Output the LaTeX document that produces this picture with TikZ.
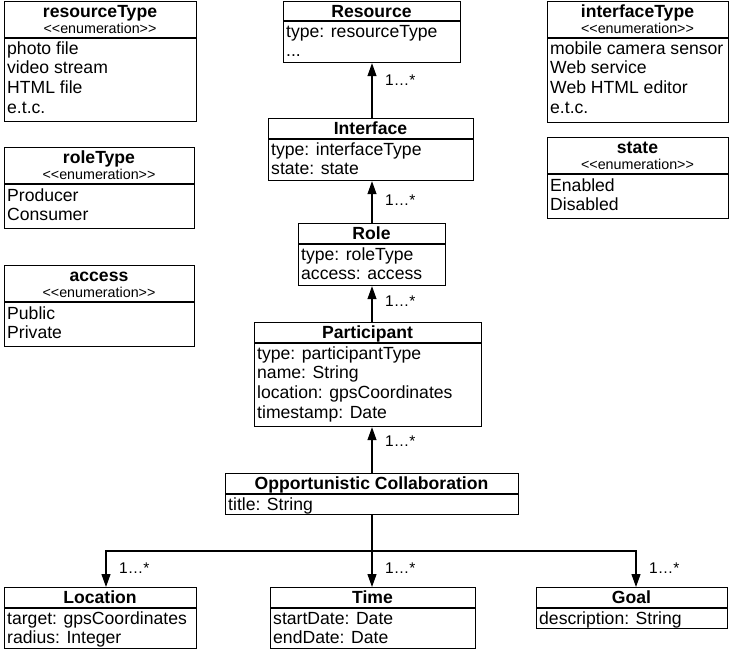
\documentclass[tikz,border=0pt]{standalone}
\usepackage{fontspec}
\setmainfont{Liberation Sans}
\usetikzlibrary{arrows.meta}
\tikzset{%
    box/.style={draw, line width=1.2pt, anchor=north west, inner sep=0pt},
    sepline/.style={line width=1.2pt},
    ttl/.style={anchor=base, inner sep=0pt, font=\fontsize{17.6}{20}\selectfont\bfseries},
    enm/.style={anchor=base, inner sep=0pt, font=\fontsize{14.3}{16}\selectfont},
    att/.style={anchor=base west, inner sep=0pt, align=left, font=\fontsize{17.6}{19.7}\selectfont},
    mult/.style={anchor=base west, inner sep=0pt, font=\fontsize{15.5}{18}\selectfont},
    assoc/.style={line width=1.2pt, -{Triangle[length=13pt, width=9pt]}}
}
\newcommand{\enumtag}{<\kern0pt<enumeration>\kern0pt>}

\begin{document}
\begin{tikzpicture}[x=1pt, y=-1pt]
            \useasboundingbox (0,0) rectangle (729,651);

            % enumerations, left column (att nodes sit on their last baseline)
            \node[box, minimum width=192, minimum height=120] (resT) at (4,1){};
            \draw[sepline] (4,38) -- (196,38);
            \node[ttl] (resTn) at (100,17){resourceType};
            \node[enm] (resTe) at (100,33){\enumtag};
            \node[att] (resTa) at (7,113.1){photo file\\video stream\\HTML file\\e.t.c.};

            \node[box, minimum width=190, minimum height=81] (roleT) at (4,147){};
            \draw[sepline] (4,184) -- (194,184);
            \node[ttl] (roleTn) at (99,163){roleType};
            \node[enm] (roleTe) at (99,179){\enumtag};
            \node[att] (roleTa) at (7,220.7){Producer\\Consumer};

            \node[box, minimum width=190, minimum height=81] (acc) at (4,265){};
            \draw[sepline] (4,302) -- (194,302);
            \node[ttl] (accn) at (99,281){access};
            \node[enm] (acce) at (99,297){\enumtag};
            \node[att] (acca) at (7,338.7){Public\\Private};

            % enumerations, right column
            \node[box, minimum width=181, minimum height=121] (intT) at (547,1){};
            \draw[sepline] (547,38) -- (728,38);
            \node[ttl] (intTn) at (637.5,17){interfaceType};
            \node[enm] (intTe) at (637.5,33){\enumtag};
            \node[att] (intTa) at (550,113.1){mobile camera sensor\\Web service\\Web HTML editor\\e.t.c.};

            \node[box, minimum width=181, minimum height=81] (stT) at (547,137){};
            \draw[sepline] (547,174) -- (728,174);
            \node[ttl] (stTn) at (637.5,153){state};
            \node[enm] (stTe) at (637.5,169){\enumtag};
            \node[att] (stTa) at (550,210.7){Enabled\\Disabled};

            % classes on the spine
            \node[box, minimum width=177, minimum height=61] (res) at (283,1){};
            \draw[sepline] (283,21) -- (460,21);
            \node[ttl] (resn) at (371.5,17){Resource};
            \node[att] (resa) at (286,56.7){type: resourceType\\...};

            \node[box, minimum width=205, minimum height=62] (int) at (268,118){};
            \draw[sepline] (268,139) -- (473,139);
            \node[ttl] (intn) at (370.5,134){Interface};
            \node[att] (inta) at (271,174.7){type: interfaceType\\state: state};

            \node[box, minimum width=147, minimum height=62] (role) at (298,223){};
            \draw[sepline] (298,244) -- (445,244);
            \node[ttl] (rolen) at (371.5,239){Role};
            \node[att] (rolea) at (301,279.7){type: roleType\\access: access};

            \node[box, minimum width=227, minimum height=104] (part) at (254,322){};
            \draw[sepline] (254,343) -- (481,343);
            \node[ttl] (partn) at (367.5,338){Participant};
            \node[att] (parta) at (257,418.1){type: participantType\\name: String\\location: gpsCoordinates\\timestamp: Date};

            \node[box, minimum width=293, minimum height=41] (oc) at (225,473){};
            \draw[sepline] (225,494) -- (518,494);
            \node[ttl] (ocn) at (371.5,489){Opportunistic Collaboration};
            \node[att] (oca) at (228,510){title: String};

            % classes at the bottom
            \node[box, minimum width=192, minimum height=61] (loc) at (4,587){};
            \draw[sepline] (4,608) -- (196,608);
            \node[ttl] (locn) at (100,603){Location};
            \node[att] (loca) at (7,643.7){target: gpsCoordinates\\radius: Integer};

            \node[box, minimum width=205, minimum height=61] (time) at (270,587){};
            \draw[sepline] (270,608) -- (475,608);
            \node[ttl] (timen) at (372.5,603){Time};
            \node[att] (timea) at (273,643.7){startDate: Date\\endDate: Date};

            \node[box, minimum width=191, minimum height=41] (goal) at (536,587){};
            \draw[sepline] (536,608) -- (727,608);
            \node[ttl] (goaln) at (631.5,603){Goal};
            \node[att] (goala) at (539,624){description: String};

            % associations
            \coordinate (spine) at (372,0);
            \coordinate (bus) at (0,551);
            \coordinate (lx) at (106,0);
            \coordinate (gx) at (636,0);
            \draw[assoc] (int.north -| spine) -- (res.south -| spine);
            \draw[assoc] (role.north -| spine) -- (int.south -| spine);
            \draw[assoc] (part.north -| spine) -- (role.south -| spine);
            \draw[assoc] (oc.north -| spine) -- (part.south -| spine);
            \draw[assoc] (oc.south -| spine) -- (time.north -| spine);
            \draw[assoc] (spine |- bus) -| (loc.north -| lx);
            \draw[assoc] (spine |- bus) -| (goal.north -| gx);

            % multiplicities
            \node[mult] (m1) at (385,85){1…*};
            \node[mult] (m2) at (385,205){1…*};
            \node[mult] (m3) at (385,306){1…*};
            \node[mult] (m4) at (385,446){1…*};
            \node[mult] (m5) at (119,573){1…*};
            \node[mult] (m6) at (385,573){1…*};
            \node[mult] (m7) at (649,573){1…*};
        \end{tikzpicture}
\end{document}
